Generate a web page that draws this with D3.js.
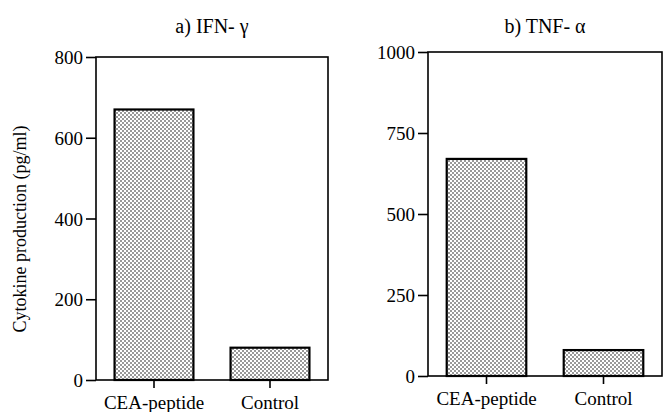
<!DOCTYPE html>
<html>
<head>
<meta charset="utf-8">
<script src="https://cdn.jsdelivr.net/npm/d3@7"></script>
<style>
	body { margin: 0; background: #fff; }
	text { font-family: "Liberation Serif", "Times New Roman", serif; fill: #000; }
</style>
</head>
<body>
<div id="chart"></div>
<script>
let categories = ["CEA-peptide", "Control"];
let ifnValues = [670, 80];
let tnfValues = [670, 80];
let ifnTicks = [0, 200, 400, 600, 800];
let tnfTicks = [0, 250, 500, 750, 1000];
let panelTitles = ["a) IFN- \u03b3", "b) TNF- \u03b1"];
let yLabel = "Cytokine production (pg/ml)";

let svg;

//
//	initSvg
//
initSvg = function () {
	svg = d3
		.select("#chart")
		.append("svg")
		.attr("width", 664)
		.attr("height", 412);

	// dotted fill used by the bars
	let pat = svg
		.append("defs")
		.append("pattern")
		.attr("id", "dots")
		.attr("patternUnits", "userSpaceOnUse")
		.attr("width", 4)
		.attr("height", 4);
	pat.append("rect").attr("width", 4).attr("height", 4).attr("fill", "#fff");
	pat.append("circle").attr("cx", 1).attr("cy", 1).attr("r", 0.75).attr("fill", "#000");
	pat.append("circle").attr("cx", 3).attr("cy", 3).attr("r", 0.75).attr("fill", "#000");
};

//
//	drawPanel
//
drawPanel = function (box, values, ticks, title) {
	let xScale = d3
		.scaleBand()
		.domain(categories)
		.range([box.left, box.right])
		.paddingInner(0.32)
		.paddingOuter(0.16);
	let yScale = d3
		.scaleLinear()
		.domain([0, d3.max(ticks)])
		.range([box.bottom, box.top]);

	let g = svg.append("g");

	// bars
	g.selectAll("rect.bar")
		.data(values)
		.enter()
		.append("rect")
		.attr("class", "bar")
		.attr("x", (d, i) => xScale(categories[i]))
		.attr("y", (d) => yScale(d))
		.attr("width", xScale.bandwidth())
		.attr("height", (d) => yScale(0) - yScale(d))
		.attr("fill", "url(#dots)")
		.attr("stroke", "#000")
		.attr("stroke-width", 2.2);

	// frame
	g.append("rect")
		.attr("x", box.left)
		.attr("y", box.top)
		.attr("width", box.right - box.left)
		.attr("height", box.bottom - box.top)
		.attr("fill", "none")
		.attr("stroke", "#000")
		.attr("stroke-width", 1.6);

	let yAxis = g
		.append("g")
		.attr("transform", "translate(" + box.left + ",0)")
		.call(d3.axisLeft(yScale).tickValues(ticks).tickFormat(d3.format("d")).tickSize(10).tickPadding(3));
	yAxis.select(".domain").remove();
	yAxis.selectAll("line").attr("stroke-width", 1.6);
	yAxis.selectAll("text").attr("font-size", 19).attr("dy", "0.35em");

	let xAxis = g
		.append("g")
		.attr("transform", "translate(0," + box.bottom + ")")
		.call(d3.axisBottom(xScale).tickSize(8).tickPadding(8));
	xAxis.select(".domain").remove();
	xAxis.selectAll("line").attr("stroke-width", 1.6);
	xAxis.selectAll("text").attr("font-size", 19);

	g.append("text")
		.attr("x", (box.left + box.right) / 2)
		.attr("y", 33)
		.attr("text-anchor", "middle")
		.attr("font-size", 20)
		.text(title);
};

initSvg();
drawPanel({ left: 96, right: 328, top: 57, bottom: 380 }, ifnValues, ifnTicks, panelTitles[0]);
drawPanel({ left: 428, right: 662, top: 52, bottom: 376 }, tnfValues, tnfTicks, panelTitles[1]);

svg.append("text")
	.attr("transform", "translate(26,229) rotate(-90)")
	.attr("text-anchor", "middle")
	.attr("font-size", 18)
	.text(yLabel);
</script>
</body>
</html>
